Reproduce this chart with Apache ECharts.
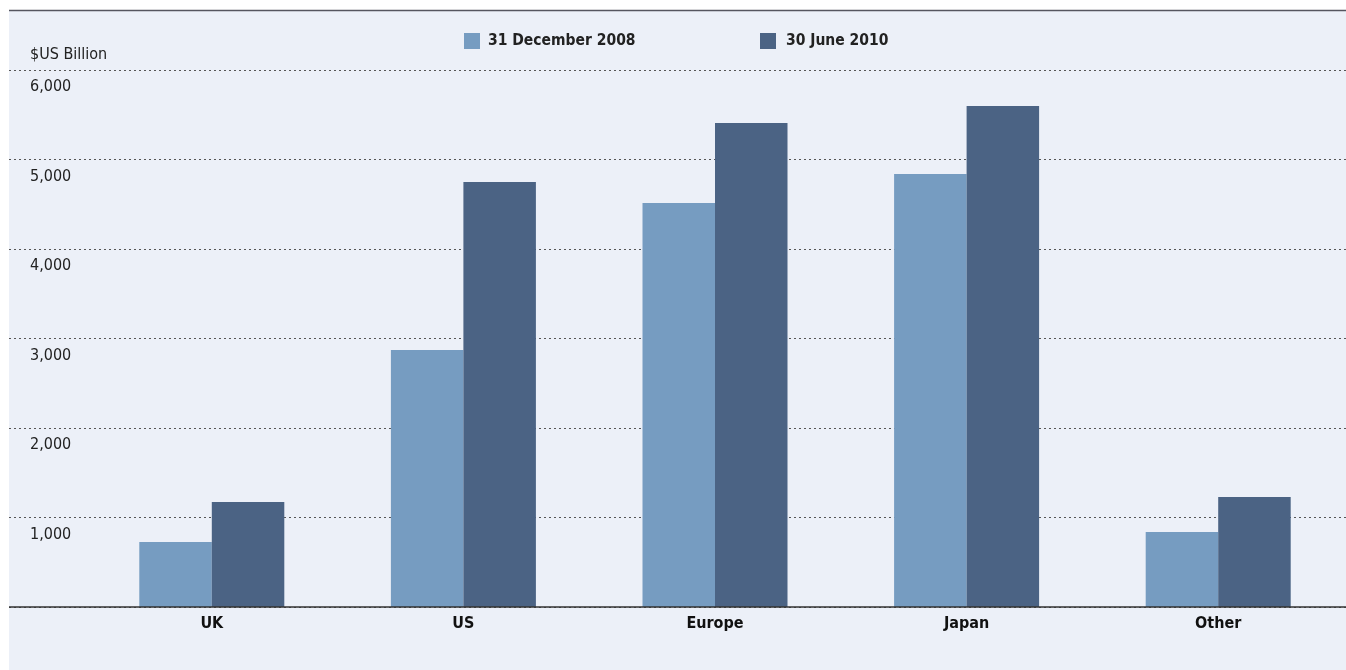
<!DOCTYPE html>
<html><head><meta charset="utf-8">
<script src="https://cdn.jsdelivr.net/npm/echarts@6/dist/echarts.min.js"></script>
<style>html,body{margin:0;padding:0;background:#fff}#c{width:1346px;height:670px}</style>
</head><body><div id="c"></div>
<script>
const categories = ['UK', 'US', 'Europe', 'Japan', 'Other'];
const seriesNames = ['31 December 2008', '30 June 2010'];
const dec2008 = [726, 2871, 4514, 4838, 838];
const jun2010 = [1173, 4749, 5408, 5598, 1229];
const yTicks = [0, 1000, 2000, 3000, 4000, 5000, 6000];

const FONT = '"Liberation Sans Narrow", "Arial Narrow", "DejaVu Sans Condensed", sans-serif';
const chart = echarts.init(document.getElementById('c'), null, {renderer: 'canvas'});
const TOP = 70, BOTTOM = 670 - 607;
chart.setOption({
  animation: false,
  backgroundColor: '#ffffff',
  graphic: [
    {type: 'rect', z: -10, shape: {x: 9, y: 10, width: 1337, height: 660}, style: {fill: '#ecf0f8'}},
    {type: 'line', z: -9, shape: {x1: 9, y1: 10.5, x2: 1346, y2: 10.5}, style: {stroke: '#55555f', lineWidth: 1.5}},
    {type: 'text', left: 30, top: 47, style: {text: '$US Billion', font: '16px ' + FONT, fill: '#222'}}
  ],
  legend: [
    {data: [seriesNames[0]], left: 464, top: 33, itemWidth: 16, itemHeight: 16, icon: 'rect', padding: 0,
     textStyle: {fontFamily: FONT, fontWeight: 'bold', fontSize: 15.5, color: '#222', padding: [0, 0, 0, 3]}},
    {data: [seriesNames[1]], left: 760, top: 33, itemWidth: 16, itemHeight: 16, icon: 'rect', padding: 0,
     textStyle: {fontFamily: FONT, fontWeight: 'bold', fontSize: 15.5, color: '#222', padding: [0, 0, 0, 5]}}
  ],
  grid: [
    {left: 9, right: 0, top: TOP, bottom: BOTTOM},
    {left: 86, right: 2, top: TOP, bottom: BOTTOM}
  ],
  xAxis: [
    {gridIndex: 0, type: 'value', min: 0, max: 1, show: false},
    {gridIndex: 1, type: 'category', data: categories,
     axisLine: {show: false}, axisTick: {show: false},
     axisLabel: {margin: 9, fontFamily: FONT, fontWeight: 'bold', fontSize: 16, color: '#111'}}
  ],
  yAxis: [
    {gridIndex: 0, type: 'value', min: yTicks[0], max: yTicks[yTicks.length - 1], interval: 1000,
     axisLine: {show: false}, axisTick: {show: false},
     splitLine: {show: true, lineStyle: {color: '#555', type: [2, 3], width: 1}},
     axisLabel: {inside: true, margin: 21, showMinLabel: false, verticalAlign: 'top', padding: [9, 0, 0, 0],
       fontFamily: FONT, fontSize: 16, color: '#222',
       formatter: v => v.toLocaleString('en-US')}},
    {gridIndex: 1, type: 'value', min: yTicks[0], max: yTicks[yTicks.length - 1], interval: 1000, show: false}
  ],
  series: [
    {name: seriesNames[0], type: 'bar', xAxisIndex: 1, yAxisIndex: 1, data: dec2008, barWidth: 72.5, barGap: '0%',
     itemStyle: {color: '#769cc1'}},
    {name: seriesNames[1], type: 'bar', xAxisIndex: 1, yAxisIndex: 1, data: jun2010, barWidth: 72.5, barGap: '0%',
     itemStyle: {color: '#4b6384'}},
    {type: 'line', xAxisIndex: 0, yAxisIndex: 0, data: [], silent: true,
     markLine: {silent: true, symbol: 'none', label: {show: false},
       lineStyle: {color: '#333', width: 1.5, type: 'solid'}, data: [{yAxis: 0}]}}
  ]
});
</script></body></html>
